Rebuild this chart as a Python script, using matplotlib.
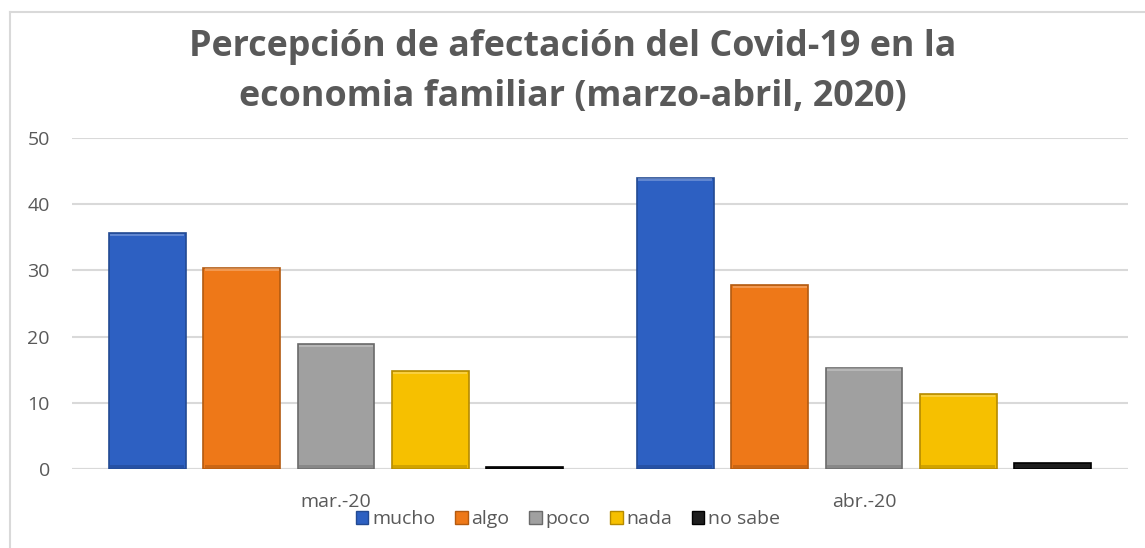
import numpy as np
import matplotlib
matplotlib.use("Agg")
import matplotlib.pyplot as plt
from matplotlib.lines import Line2D
from matplotlib.patches import Patch

plt.rcParams['font.family'] = ['Open Sans', 'DejaVu Sans']

months = ["mar.-20", "abr.-20"]
series = ["mucho", "algo", "poco", "nada", "no sabe"]
mucho = [35.6, 44.0]
algo = [30.4, 27.8]
poco = [18.9, 15.3]
nada = [14.8, 11.3]
no_sabe = [0.3, 0.9]
yticks = [0, 10, 20, 30, 40, 50]

values = [mucho, algo, poco, nada, no_sabe]
colors = ["#2D60C2", "#EE7818", "#A0A0A0", "#F6C000", "#1E1E1E"]
edges = ["#234A92", "#B35A10", "#6A6A6A", "#B58A00", "#000000"]

txt = "#595959"
fig = plt.figure(figsize=(11.45, 5.48), dpi=100)
ax = fig.add_axes([72/1145, 1-469/548, (1128-72)/1145, (469-138)/548])

step = 0.1786
width = 0.1458
x = np.arange(len(months))
for i, (vals, c, e) in enumerate(zip(values, colors, edges)):
    pos = x + (i - 2) * step
    ax.bar(pos, vals, width=width, color=c, edgecolor=e, linewidth=1.2, zorder=3)
    # bevel: light strip on top, darker strip at bottom
    ax.bar(pos, [0.35 if v > 1 else 0 for v in vals], width=width*0.96,
           bottom=[v - 0.45 for v in vals], color="white", alpha=0.25,
           linewidth=0, zorder=4)
    ax.bar(pos, [0.5 if v > 1 else 0 for v in vals], width=width*0.96,
           bottom=0.1, color="black", alpha=0.15, linewidth=0, zorder=4)

ax.set_xlim(-0.5, 1.5)
ax.set_ylim(0, 50)
ax.set_yticks(yticks)
ax.set_yticklabels([str(t) for t in yticks], fontsize=14, color=txt)
ax.set_xticks(x)
ax.set_xticklabels(months, fontsize=14, color=txt)
ax.tick_params(length=0)
ax.tick_params(axis='y', pad=16)
ax.tick_params(axis='x', pad=17)
ax.yaxis.grid(True, color="#D9D9D9", linewidth=1.5, zorder=0)
ax.set_axisbelow(True)
for s in ax.spines.values():
    s.set_visible(False)
ax.axhline(0, color="#D9D9D9", linewidth=1.5, zorder=2)

fig.text(0.5, 1-47/548, "Percepción de afectación del Covid-19 en la",
         ha="center", va="center", fontsize=25.8, fontweight="bold", color=txt)
fig.text(0.5, 1-97/548, "economia familiar (marzo-abril, 2020)",
         ha="center", va="center", fontsize=25.8, fontweight="bold", color=txt)

handles = [Patch(facecolor=c, edgecolor=e) for c, e in zip(colors, edges)]
fig.legend(handles, series, loc="center", bbox_to_anchor=(568/1145, 1-519/548),
           ncol=5, frameon=False, fontsize=14, handlelength=0.65, handleheight=0.65,
           handletextpad=0.2, columnspacing=1.0, labelcolor=txt,
           borderpad=0, borderaxespad=0)

# outer chart border (left and top visible)
fig.add_artist(Line2D([9.5/1145, 9.5/1145], [0, 1-12/548], color="#D9D9D9", linewidth=1.5))
fig.add_artist(Line2D([9.5/1145, 1], [1-12/548, 1-12/548], color="#D9D9D9", linewidth=1.5))

fig.savefig("out.png", dpi=100)
